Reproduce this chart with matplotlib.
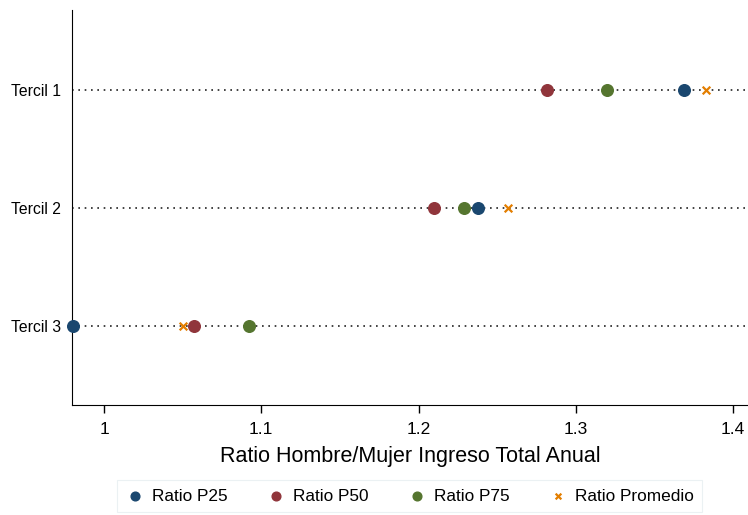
import numpy as np
import matplotlib.pyplot as plt

plt.rcParams['font.family'] = ['Liberation Sans', 'DejaVu Sans']

terciles = ["Tercil 1", "Tercil 2", "Tercil 3"]
ratio_p25 = [1.369, 1.238, 0.980]
ratio_p50 = [1.282, 1.210, 1.057]
ratio_p75 = [1.320, 1.229, 1.092]
ratio_prom = [1.383, 1.257, 1.050]


def main():
	fig = plt.figure(figsize=(7.48, 5.15), dpi=100)
	ax = fig.add_axes([0.0963, 0.2136, 0.9037, 0.7664])

	y = np.arange(1, len(terciles) + 1)

	# lineas punteadas por tercil
	for yi in y:
		ax.axhline(yi, color="#222222", linestyle=(0, (1, 2.8)), linewidth=1.2, zorder=1)

	ax.scatter(ratio_p25, y, s=70, color="#1a476f", label="Ratio P25", zorder=3, clip_on=False)
	ax.scatter(ratio_p50, y, s=70, color="#90353b", label="Ratio P50", zorder=3, clip_on=False)
	ax.scatter(ratio_p75, y, s=70, color="#55752f", label="Ratio P75", zorder=3, clip_on=False)
	ax.scatter(ratio_prom, y, s=30, color="#e37e00", marker="x", linewidths=1.6,
			   label="Ratio Promedio", zorder=4, clip_on=False)

	ax.set_xlim(0.9796, 1.4096)
	ax.set_ylim(3.67, 0.322)
	ax.set_xticks([1, 1.1, 1.2, 1.3, 1.4])
	ax.set_xticklabels(["1", "1.1", "1.2", "1.3", "1.4"], fontsize=12.5)
	ax.set_yticks(y)
	ax.set_yticklabels(terciles, fontsize=11.3)
	ax.tick_params(axis="y", length=0, pad=8)
	ax.tick_params(axis="x", length=6, width=1, pad=6)
	ax.spines["top"].set_visible(False)
	ax.spines["right"].set_visible(False)
	ax.set_xlabel("Ratio Hombre/Mujer Ingreso Total Anual", fontsize=15.5, labelpad=7)

	leg = fig.legend(loc="upper center", bbox_to_anchor=(0.548, 0.068), ncol=4, fontsize=12.4,
					 frameon=True, fancybox=False, handlelength=1.0, handletextpad=0.5,
					 columnspacing=2.3, borderpad=0.5, borderaxespad=0.0, scatterpoints=1,
					 markerscale=0.75)
	leg.get_frame().set_edgecolor("#e6eef0")
	leg.get_frame().set_linewidth(0.8)

	fig.savefig("out.png", dpi=100)

if __name__=="__main__":
	main()
